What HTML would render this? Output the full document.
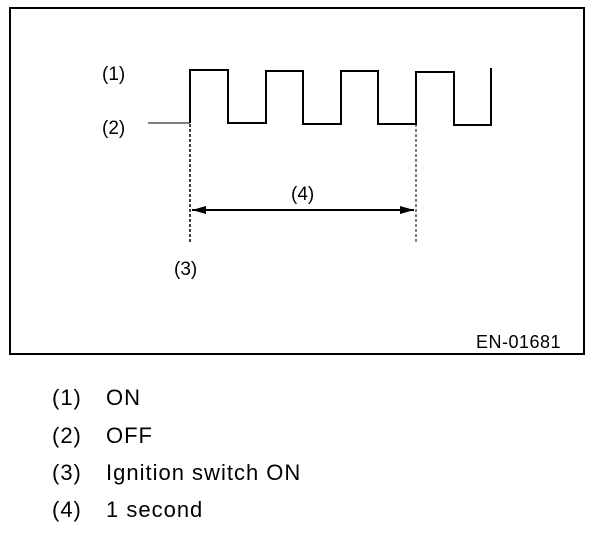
<!DOCTYPE html>
<html><head><style>
body{margin:0;background:#fff;width:608px;height:538px;overflow:hidden;font-family:"Liberation Sans",Arial,sans-serif;}
</style></head><body>
<svg width="608" height="538" xmlns="http://www.w3.org/2000/svg" style="position:absolute;left:0;top:0">
<rect x="10" y="8" width="574" height="346" fill="none" stroke="#000" stroke-width="2"/>
<line x1="148" y1="123" x2="190" y2="123" stroke="#000" stroke-width="1"/>
<polyline fill="none" stroke="#000" stroke-width="2" points="190,123 190,70 228,70 228,123 266,123 266,71 303,71 303,124 341,124 341,71 378,71 378,124 416,124 416,72 454,72 454,125 491,125 491,68"/>
<line x1="190" y1="124" x2="190" y2="242" stroke="#000" stroke-width="1.5" stroke-dasharray="3,2"/>
<line x1="416" y1="124" x2="416" y2="243" stroke="#000" stroke-width="1" stroke-dasharray="3,2"/>
<line x1="192" y1="210" x2="414" y2="210" stroke="#000" stroke-width="2"/>
<polygon points="192,210 206,206 206,214" fill="#000"/>
<polygon points="414,210 400,206 400,214" fill="#000"/>
<g font-size="19" fill="#000">
<text x="102" y="80">(1)</text>
<text x="102" y="134">(2)</text>
<text x="291" y="200">(4)</text>
<text x="174" y="275">(3)</text>
<text x="476" y="348" letter-spacing="0.5" font-size="18">EN-01681</text>
</g>
<g font-size="22" fill="#000" letter-spacing="1">
<text x="52" y="405">(1)</text><text x="106" y="405">ON</text>
<text x="52" y="443">(2)</text><text x="106" y="443">OFF</text>
<text x="52" y="480">(3)</text><text x="106" y="480">Ignition switch ON</text>
<text x="52" y="517">(4)</text><text x="106" y="517">1 second</text>
</g>
</svg>
</body></html>
